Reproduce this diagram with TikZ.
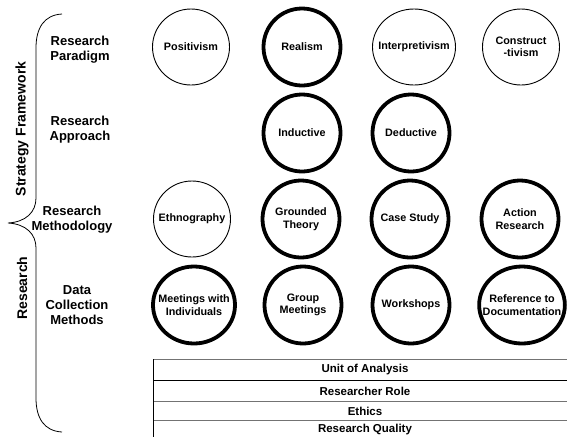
\documentclass[tikz,border=0pt]{standalone}
\usepackage{fontspec}
\setmainfont{Liberation Sans}
\usetikzlibrary{shapes,shapes.geometric,calc}

\begin{document}
\begin{tikzpicture}
		[x=1pt,y=-1pt,font=\bfseries,
		bub/.style={shape=ellipse,draw,line width=0.9pt,inner xsep=-9pt,inner ysep=0pt,
			minimum width=77pt,minimum height=76pt,align=center,
			font=\fontsize{10.8}{12.5}\selectfont\bfseries},
		bubthick/.style={bub,line width=3.8pt,minimum height=77pt},
		rowlab/.style={align=center,font=\fontsize{13}{15}\selectfont\bfseries},
		sidelab/.style={rotate=90,font=\fontsize{14}{16}\selectfont\bfseries},
		tablab/.style={font=\fontsize{11.5}{13}\selectfont\bfseries}]
		\useasboundingbox (0,0) rectangle (567,437);
		%% row labels
		\node[rowlab] (paradigm) at (80,50) {Research\\Paradigm};
		\node[rowlab] (approach) at (80,130) {Research\\Approach};
		\node[rowlab] (method) at (72,220) {Research\\Methodology};
		\node[rowlab] (datacoll) at (77,305) {Data\\Collection\\Methods};
		%% brace
		\draw[line width=0.8pt] (62,14) .. controls (44,15) and (36,28) .. (36,48) -- (36,198)
			.. controls (36,212) and (26,222) .. (8,223)
			.. controls (26,224) and (36,234) .. (36,248) -- (36,398)
			.. controls (36,418) and (44,431) .. (62,432);
		\node[sidelab] (strat) at (22,129) {Strategy Framework};
		\node[sidelab] (research) at (22,288) {Research};
		%% paradigm
		\node[bub] (pos) at (191,47) {Positivism};
		\node[bubthick] (real) at (302,47) {Realism};
		\node[bub,minimum width=83pt] (interp) at (414,47) {Interpretivism};
		\node[bub] (constr) at (521,47) {Construct\\-tivism};
		%% approach
		\node[bubthick] (induc) at (302,133) {Inductive};
		\node[bubthick] (deduc) at (411,133) {Deductive};
		%% methodology
		\node[bub] (ethno) at (192,219) {Ethnography};
		\node[bubthick] (ground) at (301,219) {Grounded\\Theory};
		\node[bubthick] (case) at (410,219) {Case Study};
		\node[bubthick] (action) at (520,219) {Action\\Research};
		%% data collection
		\node[bubthick,minimum width=82pt] (meet) at (194,305) {Meetings with\\Individuals};
		\node[bubthick] (group) at (303,305) {Group\\Meetings};
		\node[bubthick] (work) at (411,305) {Workshops};
		\node[bubthick,minimum width=79pt] (refdoc) at (522,305) {Reference to\\Documentation};
		%% table
		\foreach \yy/\col in {359/black!55,380/black,401/black!55,420/black!55}
		{
			\draw[\col,line width=0.9pt] (153,\yy) -- (567,\yy);
		}
		\draw[line width=0.9pt] (153,359) -- (153,437);
		\node[tablab] (unit) at (365,369.5) {Unit of Analysis};
		\node[tablab] (role) at (365,391) {Researcher Role};
		\node[tablab] (ethics) at (365,411) {Ethics};
		\node[tablab] (quality) at (365,429.5) {Research Quality};
		\end{tikzpicture}
\end{document}
